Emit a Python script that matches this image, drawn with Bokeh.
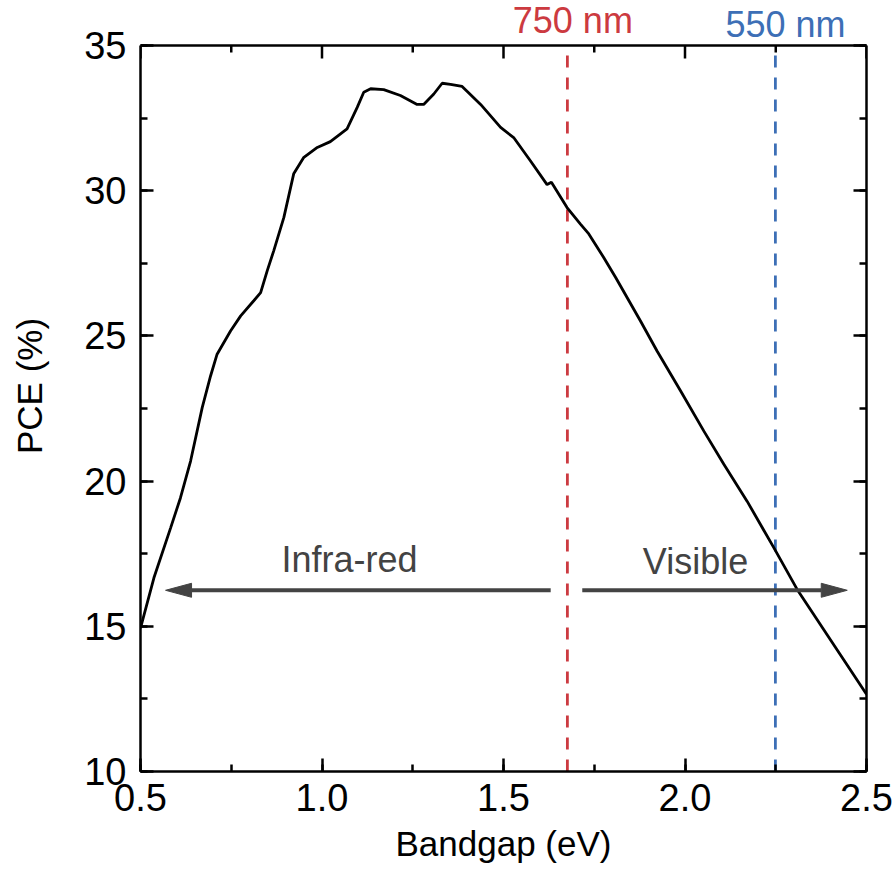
from bokeh.plotting import figure
from bokeh.models import (Range1d, SingleIntervalTicker, NumeralTickFormatter, Span, LinearAxis)
from bokeh.embed import file_html
from bokeh.resources import INLINE
from bokeh.core.properties import value

# ---- data ----
bandgap = [0.500, 0.505, 0.537, 0.583, 0.610, 0.638, 0.670, 0.693, 0.711, 0.748,
           0.776, 0.812, 0.831, 0.849, 0.867, 0.895, 0.922, 0.950, 0.987, 1.023,
           1.069, 1.097, 1.115, 1.134, 1.170, 1.216, 1.262, 1.280, 1.308, 1.331,
           1.354, 1.386, 1.437, 1.492, 1.528, 1.574, 1.620, 1.632, 1.675, 1.712,
           1.735, 1.776, 1.809, 1.877, 1.923, 1.988, 2.052, 2.107, 2.171, 2.245,
           2.309, 2.428, 2.500]
pce = [14.94, 15.17, 16.67, 18.39, 19.42, 20.69, 22.53, 23.62, 24.37, 25.17,
       25.69, 26.21, 26.49, 27.24, 27.93, 29.08, 30.58, 31.15, 31.49, 31.69,
       32.13, 32.87, 33.39, 33.51, 33.48, 33.28, 32.97, 32.97, 33.33, 33.70,
       33.66, 33.59, 32.97, 32.18, 31.83, 31.03, 30.21, 30.29, 29.42, 28.85,
       28.51, 27.70, 27.01, 25.52, 24.48, 23.10, 21.72, 20.58, 19.31, 17.70,
       16.27, 14.02, 12.66]

marker_ev = [1.676, 2.249]
marker_labels = ["750 nm", "550 nm"]
marker_colors = ["#cc3a40", "#3d6fb6"]
marker_label_x = [1.691, 2.277]
marker_label_y = [35.40, 35.29]

region_labels = ["Infra-red", "Visible"]
region_label_x = [1.076, 2.029]
region_label_y = [16.84, 16.80]
arrow_start = [1.630, 1.717]
arrow_end = [0.569, 2.447]
arrow_y = [16.24, 16.24]

x_major_ticks = [0.5, 1.0, 1.5, 2.0, 2.5]
x_minor_ticks = [0.75, 1.25, 1.75, 2.25]
y_ticks_interval = 5

FONT = "Liberation Sans"
FS_TICK = "38px"
FS = "36px"
FS_LABEL = "35px"
TEXT_GRAY = "#434343"
TEXT_SHIFT = -13  # screen px correction of the glyph text baseline

x0, x1, y0, y1 = 0.5, 2.5, 10, 35
W, H = 894, 887
ML, MR, MT, MB = 140, 28, 45, 116

px_per_x = (W - ML - MR) / (x1 - x0)
px_per_y = (H - MT - MB) / (y1 - y0)
y_top = y1 + MT / px_per_y  # frame reaches the canvas top so the labels above the box show

p = figure(width=W, height=H, x_range=Range1d(x0, x1), y_range=Range1d(y0, y_top),
           output_backend="svg", toolbar_location=None, title=None,
           min_border_left=ML, min_border_right=MR, min_border_top=0, min_border_bottom=MB,
           x_axis_label="Bandgap (eV)", y_axis_label="PCE (%)")
p.grid.visible = False
p.outline_line_color = None
p.background_fill_color = "white"
p.border_fill_color = "white"

LW = 2.5
MAJ_IN, MIN_IN = 13, 7


def style_axis(ax, show_labels=True):
    ax.axis_line_width = LW
    ax.axis_line_color = "black"
    ax.major_tick_in = MAJ_IN
    ax.major_tick_out = 0
    ax.minor_tick_in = MIN_IN
    ax.minor_tick_out = 0
    ax.major_tick_line_width = LW
    ax.minor_tick_line_width = LW
    ax.major_tick_line_color = "black"
    ax.minor_tick_line_color = "black"
    ax.major_label_text_font = FONT
    ax.axis_label_text_font = FONT
    ax.axis_label_text_font_style = "normal"
    ax.axis_label_text_color = "black"
    ax.major_label_text_color = "black"
    if show_labels:
        ax.major_label_text_font_size = FS_TICK
        ax.axis_label_text_font_size = FS_LABEL
    else:
        ax.major_label_text_font_size = "0px"
        ax.major_label_text_alpha = 0
        ax.major_label_standoff = 0


xa = p.xaxis[0]
style_axis(xa)
xa.ticker = SingleIntervalTicker(interval=0.5, num_minor_ticks=2)
xa.formatter = NumeralTickFormatter(format="0.0")
xa.major_label_standoff = 12
xa.axis_label_standoff = 10

ya = p.yaxis[0]
style_axis(ya)
ya.ticker = SingleIntervalTicker(interval=y_ticks_interval, num_minor_ticks=2)
ya.bounds = (y0, y1)
ya.major_label_standoff = 14
ya.axis_label_standoff = 32

right = LinearAxis()
style_axis(right, False)
right.ticker = SingleIntervalTicker(interval=y_ticks_interval, num_minor_ticks=2)
right.bounds = (y0, y1)
p.add_layout(right, "right")

# top edge of the box and its inward ticks
p.add_layout(Span(location=y1, dimension="width", line_color="black", line_width=LW))
p.segment(x0=x_major_ticks, y0=[y1] * len(x_major_ticks), x1=x_major_ticks,
          y1=[y1 - MAJ_IN / px_per_y] * len(x_major_ticks), line_color="black", line_width=LW)
p.segment(x0=x_minor_ticks, y0=[y1] * len(x_minor_ticks), x1=x_minor_ticks,
          y1=[y1 - MIN_IN / px_per_y] * len(x_minor_ticks), line_color="black", line_width=LW)

# vertical dashed markers (from the bottom to the top of the box)
p.segment(x0=marker_ev, y0=[y0] * len(marker_ev), x1=marker_ev, y1=[y1] * len(marker_ev),
          line_color=marker_colors, line_dash="12 10", line_width=2.8)

# the curve
p.line(bandgap, pce, line_color="black", line_width=2.8)

# arrows (shaft + filled head), computed from arrow arrays
head_len_px, head_half_px = 26, 7
shaft_x0, shaft_x1, head_xs, head_ys = [], [], [], []
for xs_, xe_, y_ in zip(arrow_start, arrow_end, arrow_y):
    d = 1 if xe_ > xs_ else -1
    base = xe_ - d * head_len_px / px_per_x
    shaft_x0.append(xs_)
    shaft_x1.append(base)
    head_xs.append([xe_, base, base])
    head_ys.append([y_, y_ + head_half_px / px_per_y, y_ - head_half_px / px_per_y])
p.segment(x0=shaft_x0, y0=arrow_y, x1=shaft_x1, y1=arrow_y,
          line_color=TEXT_GRAY, line_width=4)
p.patches(head_xs, head_ys, fill_color=TEXT_GRAY, line_color=TEXT_GRAY, line_width=1)

# region labels
p.text(x=region_label_x, y=region_label_y, text=region_labels, y_offset=TEXT_SHIFT,
       text_font=value(FONT), text_font_size=FS, text_color=TEXT_GRAY,
       text_align="center", text_baseline="alphabetic")

# wavelength labels above the box
p.text(x=marker_label_x, y=marker_label_y, text=marker_labels, y_offset=TEXT_SHIFT,
       text_font=value(FONT), text_font_size=FS, text_color=marker_colors,
       text_align="center", text_baseline="alphabetic")

open("out.html", "w").write(file_html(p, INLINE))
